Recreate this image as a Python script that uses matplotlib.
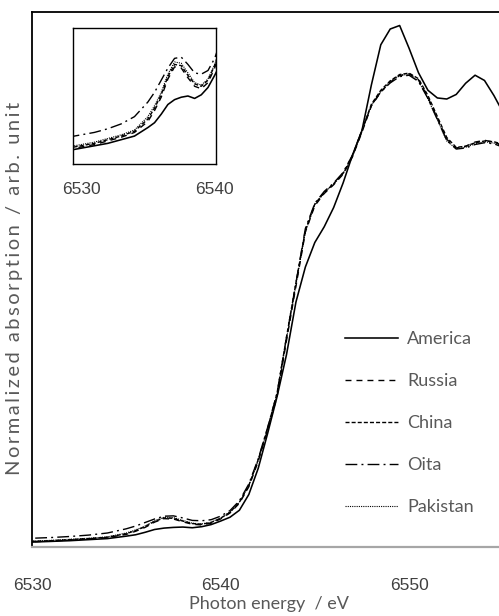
import matplotlib
matplotlib.use('Agg')
import matplotlib.pyplot as plt

# --- data (normalized absorption, arb. unit) ---
energy = [6529, 6530, 6531, 6532, 6533, 6534, 6535, 6535.5, 6536, 6536.5,
          6537, 6537.5, 6538, 6538.5, 6539, 6539.5, 6540, 6540.5, 6541, 6541.5,
          6542, 6542.5, 6543, 6543.5, 6544, 6544.5, 6545, 6545.5, 6546, 6546.5,
          6547, 6547.5, 6548, 6548.5, 6549, 6549.5, 6550, 6550.5, 6551, 6551.5,
          6552, 6552.5, 6553, 6553.5, 6554, 6554.5, 6555, 6555.5]

america = [.012, .014, .016, .018, .021, .024, .031, .035, .042, .050,
           .054, .056, .057, .055, .058, .064, .074, .085, .105, .150,
           .225, .325, .43, .55, .70, .80, .87, .915, .97, 1.04,
           1.12, 1.19, 1.32, 1.435, 1.48, 1.49, 1.425, 1.355, 1.305, 1.283,
           1.28, 1.293, 1.325, 1.348, 1.333, 1.29, 1.24, 1.20]

russia = [.013, .015, .017, .020, .023, .027, .036, .045, .056, .071,
          .081, .080, .072, .065, .063, .068, .080, .097, .125, .172,
          .245, .335, .43, .59, .745, .90, .975, 1.01, 1.035, 1.065,
          1.115, 1.185, 1.26, 1.30, 1.328, 1.347, 1.352, 1.335, 1.285, 1.225,
          1.165, 1.14, 1.145, 1.157, 1.162, 1.157, 1.147, 1.132]

china = [.014, .016, .018, .021, .024, .028, .038, .047, .058, .073,
         .083, .082, .074, .067, .065, .070, .082, .099, .128, .176,
         .25, .34, .44, .60, .755, .905, .98, 1.013, 1.038, 1.068,
         1.118, 1.19, 1.265, 1.305, 1.332, 1.35, 1.354, 1.338, 1.29, 1.23,
         1.17, 1.142, 1.145, 1.155, 1.16, 1.158, 1.15, 1.138]

oita = [.023, .025, .027, .030, .034, .040, .052, .060, .070, .080,
        .088, .089, .083, .076, .075, .078, .088, .104, .132, .18,
        .252, .342, .44, .60, .755, .91, .982, 1.016, 1.04, 1.07,
        1.12, 1.19, 1.262, 1.30, 1.326, 1.344, 1.348, 1.33, 1.282, 1.222,
        1.162, 1.137, 1.14, 1.15, 1.155, 1.152, 1.142, 1.128]

pakistan = [.015, .017, .019, .022, .025, .029, .040, .049, .060, .075,
            .085, .084, .076, .068, .066, .071, .083, .100, .128, .175,
            .248, .338, .435, .595, .75, .90, .978, 1.012, 1.037, 1.066,
            1.116, 1.187, 1.262, 1.302, 1.33, 1.348, 1.35, 1.332, 1.28, 1.22,
            1.16, 1.138, 1.142, 1.152, 1.158, 1.154, 1.145, 1.13]

names = ['America', 'Russia', 'China', 'Oita', 'Pakistan']
series = [america, russia, china, oita, pakistan]
main_ticks = [6530, 6540, 6550]
inset_ticks = [6530, 6540]

# line styles: (linewidth, dash pattern or None for solid)
styles = [(1.15, None), (1.0, (4.3, 3.6)), (1.0, (2.9, 1.5)),
          (1.0, (8.5, 3.0, 1.4, 3.0)), (0.8, (1.0, 1.0))]

plt.rcParams['font.family'] = ['Liberation Sans', 'DejaVu Sans']

W, H = 499, 616
fig = plt.figure(figsize=(W / 100, H / 100), dpi=100)


def px_box(left, top, right, bottom):
    return [left / W, 1 - bottom / H, (right - left) / W, (bottom - top) / H]


def draw(ax, with_labels):
    for name, y, (lw, dash) in zip(names, series, styles):
        kw = dict(color='black', lw=lw, label=name if with_labels else None)
        if dash is not None:
            kw['dashes'] = dash
        ax.plot(energy, y, **kw)


# --- main axes ---
ax = fig.add_axes(px_box(32, 12, 499, 547))
draw(ax, True)
ax.set_xlim(6530, 6554.77)
ax.set_ylim(0, 1.5286)
ax.set_xticks(main_ticks)
ax.set_yticks([])
ax.tick_params(axis='x', length=0, pad=22, labelsize=12.5, labelcolor='#404040')
ax.spines['right'].set_visible(False)
ax.spines['bottom'].set_color('#a6a6a6')
ax.spines['bottom'].set_linewidth(1.6)
for s in ['top', 'left']:
    ax.spines[s].set_linewidth(1.3)

fig.text(269 / W, 1 - 604 / H, 'Photon energy  / eV', ha='center', va='center',
         fontsize=13, color='#595959', family='Lato')
# the reference label is set with loose letter spacing; thin spaces mimic it
ylab = '\u2009'.join('Normalized absorption / arb. unit')
fig.text(15 / W, 1 - 288 / H, ylab, rotation=90,
         ha='center', va='center', fontsize=14.5, color='#595959',
         family=['Lato', 'DejaVu Sans'])

ax.legend(loc='upper left', bbox_to_anchor=(345 / W, 1 - 331 / H),
          bbox_transform=fig.transFigure, frameon=False,
          handlelength=2.93, handletextpad=0.5, labelspacing=1.44,
          borderpad=0, borderaxespad=0,
          prop=dict(family='Lato', size=13), labelcolor='#595959')

# --- inset (pre-edge zoom) ---
axin = fig.add_axes(px_box(73, 28, 216, 164))
draw(axin, False)
axin.set_xlim(6529.4, 6540.1)
axin.set_ylim(0.001, 0.113)
axin.set_xticks(inset_ticks)
axin.set_yticks([])
axin.tick_params(axis='x', length=0, pad=13, labelsize=12.5, labelcolor='#404040')
for s in axin.spines.values():
    s.set_linewidth(1.0)

fig.savefig('out.png', dpi=100)
